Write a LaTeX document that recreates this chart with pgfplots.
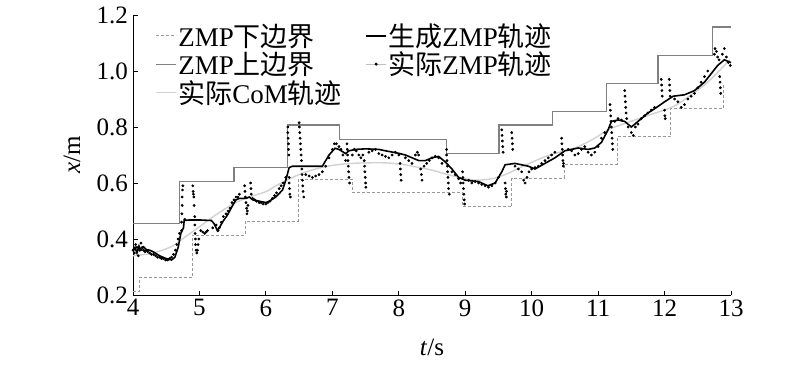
\documentclass[border=0pt]{standalone}
\usepackage{pgfplots}
\pgfplotsset{compat=1.18}
\usepackage{fontspec}
\setmainfont{Liberation Serif}
\newfontfamily\cjk{Noto Sans CJK SC}
\definecolor{upc}{gray}{0.5}
\definecolor{loc}{gray}{0.6}
\definecolor{comc}{gray}{0.82}
\begin{document}
\begin{tikzpicture}
\path[use as bounding box] (0pt,0pt) rectangle (800pt,365pt);
\begin{axis}[
  at={(133pt,70pt)}, anchor=south west,
  scale only axis, width=598pt, height=280pt,
  xmin=4, xmax=13, ymin=0.2, ymax=1.2,
  xtick={4,5,...,13}, ytick={0.2,0.4,0.6,0.8,1.0,1.2},
  axis x line*=bottom, axis y line*=left,
  axis line style={-, line width=1pt},
  tick align=inside, major tick length=4.5pt,
  tick style={line width=0.9pt, black},
  /pgf/number format/assume math mode=true,
  yticklabel style={/pgf/number format/fixed, /pgf/number format/fixed zerofill, /pgf/number format/precision=1, xshift=-1.5pt},
  xticklabel style={yshift=-1pt},
  tick label style={font=\fontsize{25}{27}\selectfont},
  every axis y label/.style={at={(axis description cs:-0.102,0.5)}, rotate=90, anchor=center, font=\fontsize{25}{27}\selectfont},
  every axis x label/.style={at={(axis description cs:0.5,-0.186)}, anchor=center, font=\fontsize{25}{27}\selectfont},
  xlabel={\textit{t}/s}, ylabel={\textit{x}/m},
  legend columns=2,
  legend cell align=left,
  legend image code/.code={\draw[mark repeat=2,mark phase=2,#1] plot coordinates {(0pt,0pt) (10pt,0pt) (20pt,0pt)};},
  legend style={at={(axis description cs:0.036,1.0)}, yshift=-6pt, anchor=north west, draw=none, fill=none,
    font=\fontsize{27}{29}\selectfont, inner sep=1pt, row sep=1pt,
    /tikz/every even column/.append style={column sep=22pt},
    nodes={inner sep=1.5pt}},
]
\addlegendimage{loc, densely dashed, line width=0.8pt}
\addlegendentry{ZMP{\cjk 下边界}}
\addlegendimage{black, line width=1.5pt}
\addlegendentry{{\cjk 生成}ZMP{\cjk 轨迹}}
\addlegendimage{upc, line width=1.2pt}
\addlegendentry{ZMP{\cjk 上边界}}
\addlegendimage{gray!50, line width=0.6pt, mark=*, mark size=1.2pt, mark options={black, solid}}
\addlegendentry{{\cjk 实际}ZMP{\cjk 轨迹}}
\addlegendimage{comc, line width=1.2pt}
\addlegendentry{{\cjk 实际}CoM{\cjk 轨迹}}

% lower boundary
\addplot[forget plot, loc, densely dashed, line width=0.9pt] coordinates {
(4.00,0.212) (4.10,0.212) (4.10,0.263) (4.90,0.263) (4.90,0.414) (5.69,0.414) (5.69,0.464)
(6.49,0.464) (6.49,0.614) (7.31,0.614) (7.31,0.565) (8.96,0.565) (8.96,0.515) (9.70,0.515)
(9.70,0.617) (10.49,0.617) (10.49,0.667) (11.29,0.667) (11.29,0.765) (12.09,0.765)
(12.09,0.867) (12.89,0.867) (12.89,0.95)};
% upper boundary
\addplot[forget plot, upc, line width=1.3pt] coordinates {
(4.00,0.455) (4.70,0.455) (4.70,0.605) (5.52,0.605) (5.52,0.655) (6.33,0.655) (6.33,0.807)
(7.11,0.807) (7.11,0.756) (8.72,0.756) (8.72,0.706) (9.51,0.706) (9.51,0.807) (10.31,0.807)
(10.31,0.855) (11.13,0.855) (11.13,0.956) (11.90,0.956) (11.90,1.055) (12.72,1.055)
(12.72,1.157) (13.00,1.157)};
% CoM
\addplot[forget plot, comc, line width=1.4pt, smooth] coordinates {
(4.00,0.340) (4.3,0.350) (4.58,0.373) (4.8,0.41) (5.0,0.444) (5.25,0.487) (5.52,0.527)
(5.75,0.550) (6.0,0.569) (6.15,0.59) (6.33,0.612) (6.55,0.635) (6.78,0.652) (7.03,0.664)
(7.29,0.670) (7.54,0.672) (7.79,0.672) (8.04,0.667) (8.29,0.656) (8.5,0.646) (8.74,0.630)
(9.0,0.615) (9.19,0.610) (9.44,0.617) (9.65,0.635) (9.85,0.658) (10.2,0.694) (10.45,0.712)
(10.70,0.730) (10.95,0.760) (11.15,0.790) (11.43,0.815) (11.8,0.845) (12.13,0.873)
(12.4,0.915) (12.63,0.956) (12.82,1.00) (12.98,1.040)};
% generated ZMP
\addplot[forget plot, black, line width=1.6pt] coordinates {
(4.00,0.355) (4.03,0.37) (4.06,0.35) (4.09,0.375) (4.12,0.36) (4.16,0.372) (4.2,0.362)
(4.25,0.36) (4.3,0.355) (4.4,0.34) (4.5,0.33) (4.58,0.325) (4.63,0.335) (4.68,0.37)
(4.72,0.42) (4.76,0.44) (4.77,0.466) (4.85,0.468) (5.0,0.468) (5.18,0.466) (5.22,0.455)
(5.27,0.43) (5.31,0.445) (5.36,0.465) (5.42,0.485) (5.5,0.52) (5.55,0.54) (5.6,0.545)
(5.7,0.545) (5.75,0.55) (5.8,0.54) (5.9,0.535) (6.0,0.53) (6.05,0.535) (6.15,0.55)
(6.25,0.575) (6.3,0.61) (6.35,0.655) (6.4,0.66) (6.6,0.66) (6.85,0.66) (6.95,0.70)
(7.04,0.724) (7.1,0.72) (7.2,0.705) (7.25,0.715) (7.35,0.72) (7.5,0.722) (7.7,0.72)
(7.8,0.715) (8.0,0.706) (8.1,0.70) (8.3,0.68) (8.4,0.68) (8.5,0.69) (8.6,0.695)
(8.7,0.675) (8.8,0.65) (8.9,0.62) (9.0,0.61) (9.2,0.605) (9.34,0.59) (9.45,0.60)
(9.55,0.64) (9.6,0.665) (9.75,0.67) (9.85,0.665) (9.95,0.66) (10.05,0.65) (10.2,0.67)
(10.35,0.69) (10.5,0.715) (10.7,0.725) (10.85,0.72) (10.95,0.725) (11.05,0.745)
(11.15,0.79) (11.2,0.82) (11.3,0.825) (11.4,0.82) (11.5,0.80) (11.6,0.82) (11.75,0.85)
(11.88,0.87) (12.0,0.89) (12.13,0.91) (12.3,0.915) (12.45,0.93) (12.6,0.96) (12.7,0.99)
(12.8,1.02) (12.9,1.04) (13.0,1.03)};
% actual ZMP
\addplot[forget plot, only marks, mark=*, mark size=1.2pt, black] coordinates {
(4.00,0.36) (4.02,0.35) (4.04,0.38) (4.06,0.37) (4.08,0.34) (4.10,0.36) (4.12,0.385)
(4.14,0.37) (4.16,0.36) (4.18,0.355) (4.20,0.36) (4.22,0.355) (4.25,0.35) (4.28,0.345)
(4.31,0.345) (4.34,0.34) (4.37,0.335) (4.40,0.335) (4.43,0.33) (4.46,0.33) (4.49,0.325)
(4.52,0.325) (4.55,0.33) (4.58,0.335) (4.61,0.345) (4.64,0.36) (4.66,0.38) (4.68,0.40)
(4.70,0.42) (4.73,0.43) (4.73,0.46) (4.735,0.49) (4.74,0.52) (4.74,0.55) (4.745,0.575)
(4.75,0.59) (4.78,0.47)
(4.90,0.59) (4.905,0.57) (4.91,0.56) (4.915,0.55) (4.92,0.52) (4.93,0.48) (4.93,0.45)
(4.935,0.42) (4.94,0.40) (4.94,0.38) (4.95,0.36) (4.96,0.35) (4.97,0.36) (4.98,0.38)
(4.99,0.40) (5.02,0.43) (5.05,0.425) (5.08,0.42) (5.1,0.425) (5.12,0.43) (5.2,0.44)
(5.25,0.45) (5.28,0.43) (5.3,0.44) (5.33,0.46) (5.36,0.48) (5.4,0.49) (5.43,0.50)
(5.46,0.51) (5.49,0.53) (5.52,0.54) (5.55,0.55) (5.58,0.55) (5.6,0.56)
(5.68,0.59) (5.685,0.57) (5.69,0.55) (5.70,0.53) (5.71,0.51) (5.715,0.49) (5.72,0.50)
(5.73,0.52) (5.77,0.60) (5.775,0.58) (5.78,0.56)
(5.8,0.545) (5.83,0.54) (5.86,0.535) (5.9,0.53) (5.93,0.53) (5.96,0.525) (6.0,0.525)
(6.03,0.53) (6.06,0.535) (6.1,0.545) (6.13,0.555) (6.16,0.565) (6.2,0.58) (6.23,0.59)
(6.26,0.60) (6.3,0.62)
(6.33,0.80) (6.33,0.78) (6.335,0.76) (6.34,0.74) (6.34,0.72) (6.345,0.70) (6.35,0.62)
(6.35,0.60) (6.355,0.58) (6.36,0.56) (6.37,0.55)
(6.50,0.815) (6.505,0.80) (6.51,0.78) (6.515,0.76) (6.52,0.74) (6.525,0.72) (6.53,0.70)
(6.535,0.68) (6.54,0.65) (6.545,0.63) (6.55,0.61) (6.555,0.59) (6.56,0.57) (6.57,0.55)
(6.6,0.63) (6.65,0.625) (6.7,0.62) (6.75,0.625) (6.8,0.63) (6.85,0.64) (6.9,0.66)
(6.95,0.69) (7.0,0.72) (7.03,0.74) (7.06,0.74) (7.1,0.73) (7.13,0.72) (7.16,0.70) (7.2,0.68)
(7.22,0.74) (7.225,0.72) (7.23,0.70) (7.235,0.68) (7.24,0.66) (7.245,0.64) (7.25,0.62)
(7.26,0.60) (7.3,0.70) (7.33,0.72) (7.36,0.715) (7.4,0.70) (7.43,0.69) (7.46,0.70)
(7.48,0.68) (7.485,0.66) (7.49,0.64) (7.495,0.62) (7.50,0.60) (7.505,0.585)
(7.55,0.71) (7.6,0.715) (7.65,0.72) (7.7,0.705) (7.75,0.70) (7.8,0.695) (7.85,0.69)
(7.9,0.70) (7.95,0.71) (8.0,0.70) (8.02,0.67) (8.025,0.65) (8.03,0.63) (8.035,0.61)
(8.1,0.69) (8.15,0.68) (8.2,0.67) (8.25,0.70) (8.28,0.71) (8.3,0.70) (8.33,0.65)
(8.34,0.63) (8.35,0.61) (8.38,0.66) (8.42,0.67) (8.46,0.68) (8.5,0.69) (8.55,0.695)
(8.6,0.69) (8.65,0.67)
(8.72,0.72) (8.72,0.70) (8.725,0.68) (8.73,0.66) (8.735,0.64) (8.74,0.62) (8.745,0.60)
(8.75,0.58) (8.76,0.56) (8.8,0.64) (8.85,0.63) (8.9,0.615) (8.93,0.60)
(8.96,0.64) (8.965,0.62) (8.97,0.60) (8.975,0.58) (8.98,0.56) (8.985,0.54) (8.99,0.525)
(9.05,0.61) (9.1,0.60) (9.15,0.605) (9.2,0.60) (9.25,0.595) (9.3,0.59) (9.35,0.585)
(9.4,0.59) (9.45,0.60) (9.5,0.62)
(9.55,0.79) (9.555,0.77) (9.56,0.75) (9.565,0.73) (9.57,0.71) (9.60,0.60) (9.605,0.58)
(9.61,0.56) (9.62,0.55) (9.62,0.57) (9.70,0.78) (9.705,0.76) (9.71,0.74) (9.715,0.72)
(9.75,0.66) (9.8,0.65) (9.85,0.64) (9.88,0.61) (9.9,0.60) (9.93,0.62) (9.96,0.64)
(10.0,0.65) (10.05,0.655) (10.1,0.66) (10.15,0.67) (10.2,0.68) (10.25,0.69) (10.3,0.70)
(10.35,0.71) (10.45,0.76) (10.455,0.74) (10.46,0.72) (10.465,0.70) (10.47,0.68)
(10.475,0.66) (10.48,0.67) (10.55,0.72) (10.6,0.715) (10.65,0.70) (10.7,0.705)
(10.75,0.72) (10.8,0.73) (10.85,0.71) (10.9,0.70) (10.95,0.71) (11.0,0.73) (11.05,0.76)
(11.1,0.78)
(11.18,0.88) (11.185,0.86) (11.19,0.84) (11.195,0.82) (11.20,0.80) (11.205,0.78)
(11.21,0.76) (11.215,0.74) (11.22,0.72) (11.40,0.93) (11.405,0.91) (11.41,0.89)
(11.415,0.87) (11.42,0.85) (11.43,0.83) (11.25,0.82) (11.3,0.83) (11.35,0.825)
(11.45,0.80) (11.5,0.78) (11.53,0.77) (11.56,0.80) (11.6,0.81) (11.65,0.83) (11.7,0.84)
(11.75,0.85) (11.8,0.86) (11.85,0.87)
(11.95,0.97) (11.955,0.95) (11.96,0.93) (11.965,0.91) (12.0,0.86) (12.005,0.84)
(12.01,0.83) (12.07,0.97) (12.075,0.95) (12.08,0.93) (12.085,0.91)
(12.15,0.90) (12.2,0.89) (12.25,0.87) (12.3,0.88) (12.35,0.90) (12.4,0.91) (12.45,0.92)
(12.5,0.94) (12.55,0.96) (12.6,0.98) (12.65,1.0)
(12.75,1.06) (12.76,1.08) (12.78,1.07) (12.8,1.05) (12.82,1.04) (12.83,0.98)
(12.835,0.96) (12.84,0.94) (12.845,0.92) (12.87,1.06) (12.9,1.08) (12.93,1.05)
(12.96,1.03) (12.99,1.02)};
\end{axis}
\end{tikzpicture}
\end{document}
